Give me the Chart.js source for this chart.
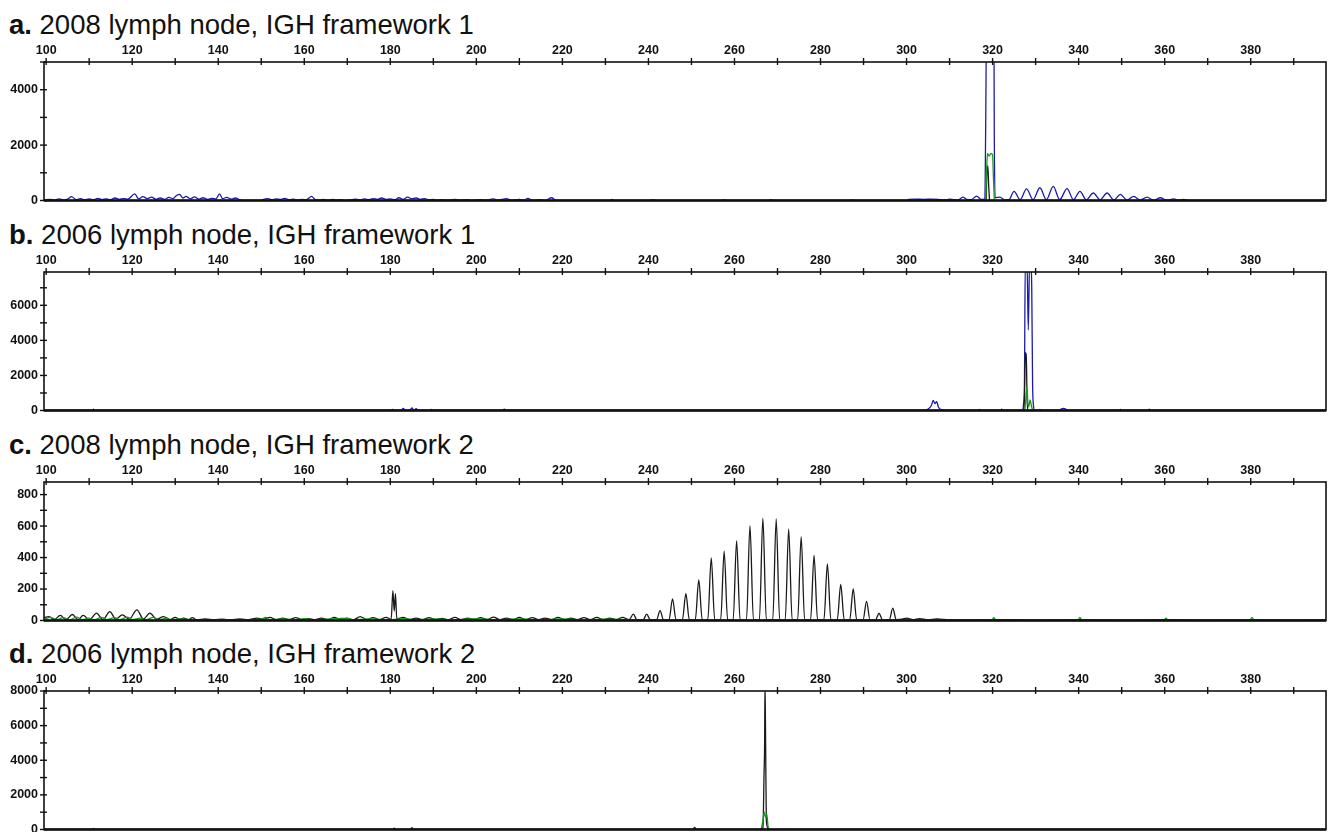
<!DOCTYPE html>
<html>
<head>
<meta charset="utf-8">
<script src="https://cdn.jsdelivr.net/npm/chart.js@4.4.1/dist/chart.umd.min.js"></script>
<style>
  body { margin: 0; background: #fff; }
  #wrap { position: relative; width: 1328px; height: 832px; overflow: hidden; }
  canvas { position: absolute; left: 0; }
  .ttl { position: absolute; left: 9px; font: 27.5px "Liberation Sans", Arial, sans-serif; line-height: 28px; color: #111; white-space: nowrap; }
  .ttl b { font-weight: bold; }
</style>
</head>
<body>
<div id="wrap"></div>
<script>
// panel titles
const panelLetters = ['a.', 'b.', 'c.', 'd.'];
const panelTitles = [
  '2008 lymph node, IGH framework 1',
  '2006 lymph node, IGH framework 1',
  '2008 lymph node, IGH framework 2',
  '2006 lymph node, IGH framework 2'
];
// size axis (bp) ticks, labelled every 20
const xTicks = [100, 110, 120, 130, 140, 150, 160, 170, 180, 190, 200, 210, 220, 230, 240, 250, 260, 270, 280, 290, 300, 310, 320, 330, 340, 350, 360, 370, 380, 390];
const xLabelStep = 20;
// RFU axis ticks per panel
const yTicksA = [0, 1000, 2000, 3000, 4000, 5000];
const yTicksB = [0, 1000, 2000, 3000, 4000, 5000, 6000, 7000];
const yTicksC = [0, 100, 200, 300, 400, 500, 600, 700, 800];
const yTicksD = [0, 1000, 2000, 3000, 4000, 5000, 6000, 7000, 8000];
const yMaxes = [5000, 7900, 880, 8000];
const yLabelStep = [2000, 2000, 200, 2000];

// traces as [size (bp), RFU]
const aBlue = [[99.6,20],[101,40],[102,15],[103,60],[104,25],[105,50],[105.9,140],[107,30],[108,70],[109,20],[110,55],[111,30],[112,80],[113,35],[114,60],[115,25],[116,90],[117,40],[118,70],[119,50],[120.6,240],[121.5,60],[122.5,140],[123.5,70],[124.5,120],[125.5,50],[126.5,90],[127.5,40],[128.5,110],[129.5,70],[130.3,180],[131,220],[131.8,90],[132.5,150],[133.5,60],[134.5,130],[135.5,50],[136.5,100],[137.5,40],[138.5,80],[139.5,60],[140.3,240],[141,70],[142,110],[143,50],[144,90],[145,30],[145.5,5],[150,5],[150.5,40],[151.5,70],[152.5,30],[153.5,60],[154.5,40],[155.5,80],[156.5,30],[157.5,50],[158.5,20],[159.5,40],[160.5,30],[161.7,150],[162.5,40],[163.5,20],[164.5,40],[165.5,10],[166.5,40],[167.5,15],[168.5,30],[169.5,5],[171,30],[172,50],[173,20],[174,60],[175,30],[176,70],[177,40],[178,90],[179,40],[180,60],[181,30],[182,100],[183,40],[184,120],[185,60],[186,90],[187,40],[188,70],[189,20],[190,40],[191,10],[192,30],[193,10],[195,40],[196,15],[198,30],[199,5],[201,30],[202,10],[204,60],[205,10],[207,70],[208,10],[210,40],[211,10],[212,80],[213,10],[215,30],[216,5],[217.5,100],[218.5,5],[225,0],[231,0],[231.5,40],[232,0],[240,0],[241,30],[242,0],[257,0],[257.5,30],[258,0],[268,0],[268.5,30],[269,0],[287,0],[287.5,25],[288,0],[300,0],[300.5,40],[302,50],[304,40],[306,50],[308,30],[309,20],[310,50],[311,30],[312,20],[313.1,120],[314,40],[315,30],[316.3,160],[317.3,40],[318.2,60],[318.4,2800],[318.6,6500],[320.3,6500],[320.4,2200],[320.6,100],[321.7,120],[322.8,20],[323.8,30],[325,330],[326.4,30],[327.9,420],[329.4,30],[331,460],[332.5,30],[334.1,510],[335.6,30],[337.3,430],[338.8,30],[340.3,330],[341.8,25],[343.4,270],[345,25],[346.6,270],[348.2,20],[349.7,220],[351.2,20],[352.8,150],[354.3,15],[355.9,120],[357.4,10],[359,100],[360.5,10],[362.1,60],[363.2,10],[364.4,40],[365.5,0],[397.5,0]];
const aBlack = [[318.5,0],[318.7,1100],[318.9,1250],[319.1,500],[319.3,0]];
const aGreen = [[318.4,0],[318.6,1000],[318.8,1700],[319.2,1600],[319.6,1700],[320.0,1650],[320.2,800],[320.4,0]];

const bBlue = [[99.6,0],[180,0],[180.5,60],[181,0],[182.5,0],[183,120],[183.5,0],[184.5,0],[185,150],[185.5,20],[186,100],[186.5,0],[189,0],[189.5,60],[190,0],[206,0],[206.5,80],[207,0],[304,0],[305,80],[305.8,300],[306.2,580],[306.6,400],[307,500],[307.4,200],[308,50],[309,0],[326.9,0],[327.2,400],[327.4,1500],[327.6,8500],[328.0,8500],[328.3,4600],[328.6,8500],[328.9,8500],[329.1,7000],[329.3,1500],[329.5,300],[329.8,0],[335.5,0],[336,100],[336.5,120],[337,80],[337.5,0],[397.5,0]];
const bBlack = [[99.6,0],[110.8,0],[111,80],[111.2,0],[316.7,0],[316.9,60],[317.1,0],[321.9,0],[322.1,70],[322.3,0],[327.1,0],[327.4,600],[327.6,3300],[327.8,3200],[327.9,2400],[328.0,800],[328.2,0],[330.8,0],[331,60],[331.2,0],[349.5,0],[349.7,60],[349.9,0],[356.2,0],[356.4,70],[356.6,0],[397.5,0]];
const bGreen = [[327.5,0],[327.8,900],[328.0,1300],[328.2,400],[328.4,200],[328.7,600],[329.0,300],[329.3,0]];

const cBlack = [[99.6,20],[100.7,25],[101.8,5],[103.3,32],[104.6,5],[106.1,38],[107.4,5],[108.6,32],[110.1,5],[111.7,47],[113.2,5],[114.8,57],[116.2,8],[117.7,36],[119.3,8],[121.1,68],[122.6,10],[124.1,47],[125.7,8],[127.3,25],[128.8,5],[130,20],[131,8],[132,15],[133,5],[134,18],[135,5],[137,10],[139,5],[141,8],[143,4],[145,10],[147,5],[149,15],[150.5,8],[152,20],[153.5,6],[155,15],[156.5,5],[158,18],[159.5,6],[161,12],[162.5,5],[164,15],[165.5,5],[167,20],[168.5,6],[170,14],[171.5,5],[173,25],[174.5,6],[176,18],[177.5,5],[179,20],[180.2,8],[180.6,190],[180.9,60],[181.2,170],[181.5,10],[183,20],[184.5,5],[186,15],[187.5,5],[189,18],[190.5,6],[192,14],[193.5,5],[195,20],[196.5,6],[198,15],[199.5,5],[201,18],[202.5,6],[204,22],[205.5,5],[207,15],[208.5,5],[210,20],[211.5,6],[213,18],[214.5,5],[216,15],[217.5,5],[219,20],[220.5,5],[222,15],[223.5,5],[225,18],[226.5,5],[228,20],[229.5,6],[231,15],[232.5,5],[234,20],[235.5,5],
  [236.5,40],[237.3,6],[238.8,6],[239.6,40],[240.4,6],[241.9,6],[242.7,63],[243.5,6],[244.8,6],[245.6,138],[246.4,6],[247.9,6],[248.7,170],[249.5,6],[250.9,6],[251.7,258],[252.5,6],[253.8,6],[254.6,398],[255.4,6],[256.8,6],[257.6,440],[258.4,6],[259.7,6],[260.5,508],[261.3,6],[262.8,6],[263.6,603],[264.4,6],[265.8,6],[266.6,650],[267.4,6],[268.9,6],[269.7,645],[270.5,6],[271.8,6],[272.6,582],[273.4,6],[274.7,6],[275.5,533],[276.3,6],[277.7,6],[278.5,413],[279.3,6],[280.8,6],[281.6,360],[282.4,6],[283.9,6],[284.7,229],[285.5,6],[286.8,6],[287.6,201],[288.4,6],[289.9,6],[290.7,121],[291.5,6],[292.8,6],[293.6,46],[294.4,6],[296.0,6],[296.8,78],[297.6,6],
  [299,8],[300,15],[301.5,5],[303,12],[305,5],[307,10],[310,4],[315,6],[320,4],[325,6],[330,3],[340,5],[350,3],[360,5],[370,3],[380,4],[390,3],[397.5,4]];
const cGreen = [[99.6,10],[101,20],[102.5,5],[104,18],[105.5,4],[107,22],[108.5,5],[110,15],[111,4],[113,20],[114,5],[116,18],[117,5],[119,22],[120,5],[122,15],[123,4],[125,20],[126,4],[128,15],[129,3],[131,10],[135,3],[140,5],[145,3],[150,8],[151,20],[152,5],[155,10],[158,4],[160,12],[162,3],[165,8],[170,15],[171,4],[175,10],[180,5],[183,12],[186,4],[190,10],[195,4],[200,12],[205,4],[210,10],[215,4],[220,10],[225,3],[230,8],[240,3],[250,6],[260,3],[270,5],[280,3],[290,5],[300,3],[310,4],[319.8,3],[320.3,18],[320.8,3],[339.8,3],[340.3,20],[340.8,3],[359.8,3],[360.3,15],[360.8,3],[379.8,3],[380.3,20],[380.8,3],[397.5,3]];

const dBlack = [[99.6,0],[110.8,0],[111,60],[111.2,0],[180.6,0],[180.9,80],[181.2,0],[184.8,0],[185,100],[185.3,0],[250.4,0],[250.7,120],[251,60],[251.2,0],[266.5,0],[266.7,600],[266.85,2950],[267.0,4800],[267.1,8500],[267.25,4800],[267.4,600],[267.6,200],[267.8,0],[397.5,0]];
const dGreen = [[266.2,0],[266.6,500],[266.9,1000],[267.2,700],[267.5,900],[267.8,200],[268.1,0]];

const BLUE = '#1c1ca8', GREEN = '#169a16', BLACK = '#1a1a1a';

const panels = [
  { yTicks: yTicksA, traces: [[aGreen, GREEN], [aBlack, BLACK], [aBlue, BLUE]] },
  { yTicks: yTicksB, traces: [[bGreen, GREEN], [bBlack, BLACK], [bBlue, BLUE]] },
  { yTicks: yTicksC, traces: [[cGreen, GREEN], [cBlack, BLACK]] },
  { yTicks: yTicksD, traces: [[dGreen, GREEN], [dBlack, BLACK]] }
];
const panelTops = [0, 210, 420, 629];
const titleTops = [11, 221, 431, 640];

// frame + ticks crossing the axis lines, like the analyser plots
const framePlugin = {
  id: 'frame',
  afterDraw(chart) {
    const { ctx, chartArea: a, scales: { x, y } } = chart;
    ctx.save();
    ctx.strokeStyle = '#111';
    ctx.lineWidth = 1.6;
    ctx.strokeRect(a.left, a.top, a.right - a.left, a.bottom - a.top);
    ctx.lineWidth = 2.6;
    ctx.beginPath();
    ctx.moveTo(a.left, a.bottom);
    ctx.lineTo(a.right, a.bottom);
    ctx.stroke();
    ctx.lineWidth = 1.4;
    x.ticks.forEach(t => {
      const px = x.getPixelForValue(t.value);
      ctx.beginPath();
      ctx.moveTo(px, a.top - 4);
      ctx.lineTo(px, a.top + 3);
      ctx.stroke();
    });
    y.ticks.forEach(t => {
      const py = y.getPixelForValue(t.value);
      ctx.beginPath();
      ctx.moveTo(a.left - 4, py);
      ctx.lineTo(a.left + 3, py);
      ctx.stroke();
    });
    ctx.restore();
  }
};

const wrap = document.getElementById('wrap');
const tickFont = { family: '"Liberation Sans", Arial, sans-serif', size: 12.5, weight: 'bold' };

panels.forEach((p, i) => {
  const t = document.createElement('div');
  t.className = 'ttl';
  t.style.top = titleTops[i] + 'px';
  t.innerHTML = '<b>' + panelLetters[i] + '</b> ' + panelTitles[i];
  wrap.appendChild(t);

  const cv = document.createElement('canvas');
  cv.width = 1328;
  cv.height = 214;
  cv.style.top = panelTops[i] + 'px';
  wrap.appendChild(cv);

  new Chart(cv.getContext('2d'), {
    type: 'line',
    data: {
      datasets: p.traces.map((tr, k) => ({
        data: tr[0].map(d => ({ x: d[0], y: d[1] })),
        borderColor: tr[1],
        borderWidth: 1.3,
        pointRadius: 0,
        fill: false,
        cubicInterpolationMode: 'monotone',
        order: k
      }))
    },
    options: {
      responsive: false,
      animation: false,
      devicePixelRatio: 1,
      events: [],
      layout: { padding: { top: 0, right: 2, bottom: 0, left: 0 } },
      plugins: { legend: { display: false }, tooltip: { enabled: false } },
      scales: {
        x: {
          type: 'linear',
          position: 'top',
          min: 99.5,
          max: 397.5,
          grid: { display: false, drawTicks: false },
          border: { display: false },
          afterBuildTicks: s => { s.ticks = xTicks.map(v => ({ value: v })); },
          ticks: {
            maxRotation: 0,
            autoSkip: false,
            padding: 4,
            color: '#111',
            font: tickFont,
            callback: v => (v % xLabelStep === 0 ? String(v) : '')
          },
          afterFit: s => { s.height = 62; }
        },
        y: {
          min: 0,
          max: yMaxes[i],
          grid: { display: false, drawTicks: false },
          border: { display: false },
          afterBuildTicks: s => { s.ticks = p.yTicks.map(v => ({ value: v })); },
          ticks: {
            autoSkip: false,
            padding: 6,
            color: '#111',
            font: tickFont,
            callback: v => (v % yLabelStep[i] === 0 ? String(v) : '')
          },
          afterFit: s => { s.width = 44; }
        }
      }
    },
    plugins: [framePlugin]
  });
});
</script>
</body>
</html>
